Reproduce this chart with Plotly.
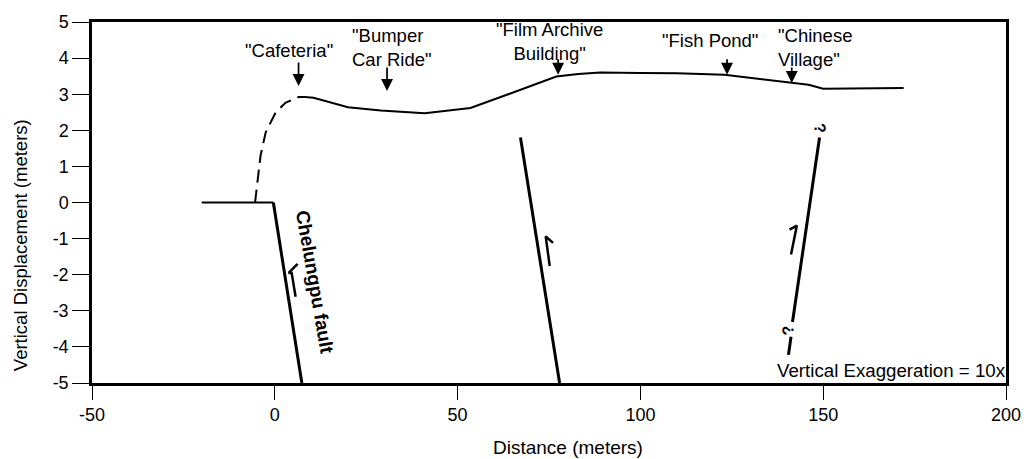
import plotly.graph_objects as go

# Topographic profile across the fault zone (distance m, vertical displacement m)
surface_x = [8.3, 10.6, 20, 29, 41, 53.5, 65, 77, 83, 89, 100, 110, 123, 137, 146, 150, 157, 172]
surface_y = [2.92, 2.9, 2.64, 2.55, 2.47, 2.62, 3.04, 3.49, 3.56, 3.6, 3.59, 3.58, 3.54, 3.38, 3.26, 3.15, 3.16, 3.17]

# Inferred (dashed) part of the surface near the fault tip
inferred_x = [-5.4, -4.8, -3.9, -2.5, 0.2, 2.9, 6.5, 8.3]
inferred_y = [0.0, 0.57, 1.3, 1.94, 2.49, 2.76, 2.92, 2.92]

# Footwall surface west of the Chelungpu fault
footwall_x = [-20, -0.4]
footwall_y = [0, 0]

# Fault traces
chelungpu_x = [-0.4, 7.4]
chelungpu_y = [0, -5]
middle_fault_x = [67.2, 77.9]
middle_fault_y = [1.8, -5]
east_fault_x = [149.0, 141.6]
east_fault_y = [1.8, -3.31]
east_fault_tail_x = [141.2, 140.5]
east_fault_tail_y = [-3.72, -4.22]

# Slip-sense half arrows (shaft, then barb) beside each fault
slip_arrows = [
    ([5.69, 4.61, 3.80, 6.24], [-2.61, -1.95, -1.95, -1.70]),
    ([75.2, 74.1, 76.1], [-1.76, -0.94, -1.12]),
    ([141.2, 142.8, 140.8], [-1.44, -0.64, -0.75]),
]

# Site labels and the points their arrows mark on the profile
site_labels = ['"Cafeteria"', '"Bumper<br>Car Ride"', '"Film Archive<br>Building"', '"Fish Pond"', '"Chinese<br>Village"']
site_tip_x = [6.5, 30.7, 77.5, 123.7, 141.4]
site_tip_y = [3.23, 3.09, 3.54, 3.54, 3.31]
site_arrow_len = [25, 25, 17, 17, 17]
site_text_x = [3.9, 20.7, 75.0, 119.0, 137.0]
site_text_y = [4.22, 4.29, 4.47, 4.5, 4.29]
site_text_align = ["center", "left", "center", "center", "left"]

x_ticks = [-50, 0, 50, 100, 150, 200]
x_tick_text = ["-50", "0", "50", "100", "150", "200"]
y_ticks = [-5, -4, -3, -2, -1, 0, 1, 2, 3, 4, 5]
y_tick_text = ["-5", "-4", "-3", "-2", "-1", "0", "1", "2", "3", "4", "5"]

FONT = "Liberation Sans"

fig = go.Figure()

def add_line(x, y, width, dash="solid"):
    fig.add_trace(go.Scatter(x=x, y=y, mode="lines",
                             line=dict(color="black", width=width, dash=dash),
                             hoverinfo="skip", showlegend=False))

add_line(surface_x, surface_y, 2)
add_line(inferred_x, inferred_y, 2, dash="13px,7px")
add_line(footwall_x, footwall_y, 2)
add_line(chelungpu_x, chelungpu_y, 3)
add_line(middle_fault_x, middle_fault_y, 3)
add_line(east_fault_x, east_fault_y, 3)
add_line(east_fault_tail_x, east_fault_tail_y, 3)
for ax_, ay_ in slip_arrows:
    add_line(ax_, ay_, 2.5)

annotations = []
# Site labels
for lab, tx, ty, al in zip(site_labels, site_text_x, site_text_y, site_text_align):
    annotations.append(dict(x=tx, y=ty, text=lab, showarrow=False, align=al,
                            xanchor="left" if al == "left" else "center",
                            yanchor="middle",
                            font=dict(family=FONT, size=18.5, color="black")))
# Site arrows
for px, py, ln in zip(site_tip_x, site_tip_y, site_arrow_len):
    annotations.append(dict(x=px, y=py, text="", showarrow=True, ax=0, ay=-ln,
                            arrowhead=2, arrowsize=1.4, arrowwidth=1.7,
                            arrowcolor="black"))

annotations += [
    dict(x=10.8, y=-2.2, text="<b>Chelungpu fault</b>", showarrow=False,
         textangle=80, font=dict(family=FONT, size=19, color="black")),
    dict(x=149.1, y=2.05, text="<b>?</b>", showarrow=False, textangle=80,
         font=dict(family=FONT, size=16, color="black")),
    dict(x=140.3, y=-3.54, text="<b>?</b>", showarrow=False, textangle=-100,
         font=dict(family=FONT, size=16, color="black")),
    dict(x=197.7, y=-4.64, xshift=10, text="Vertical Exaggeration = 10x", showarrow=False,
         xanchor="right", yanchor="middle",
         font=dict(family=FONT, size=18.7, color="black")),
    dict(xref="paper", yref="paper", x=(572 - 92) / 922, y=(383 - 448) / 365,
         text="Distance (meters)", showarrow=False, xanchor="center", yanchor="middle",
         font=dict(family=FONT, size=19, color="black")),
    dict(xref="paper", yref="paper", x=(20 - 92) / 922, y=(383 - 244) / 365,
         text="Vertical Displacement (meters)", showarrow=False, textangle=-90,
         xanchor="center", yanchor="middle",
         font=dict(family=FONT, size=18.5, color="black")),
]

axis_common = dict(showgrid=False, zeroline=False, showline=True, linecolor="black",
                   linewidth=2.5, mirror=True, ticks="outside",
                   tickwidth=1, tickcolor="black",
                   tickfont=dict(family=FONT, size=18, color="black"))

fig.update_layout(
    width=1033, height=459, autosize=False,
    margin=dict(l=92, r=19, t=18, b=76),
    paper_bgcolor="white", plot_bgcolor="white",
    xaxis=dict(range=[-50, 200], tickvals=x_ticks, ticktext=x_tick_text,
               ticklen=14, **axis_common),
    yaxis=dict(range=[-5, 5], tickvals=y_ticks, ticktext=y_tick_text,
               ticklen=17, **axis_common),
    annotations=annotations,
)

fig.write_html("out.html")
